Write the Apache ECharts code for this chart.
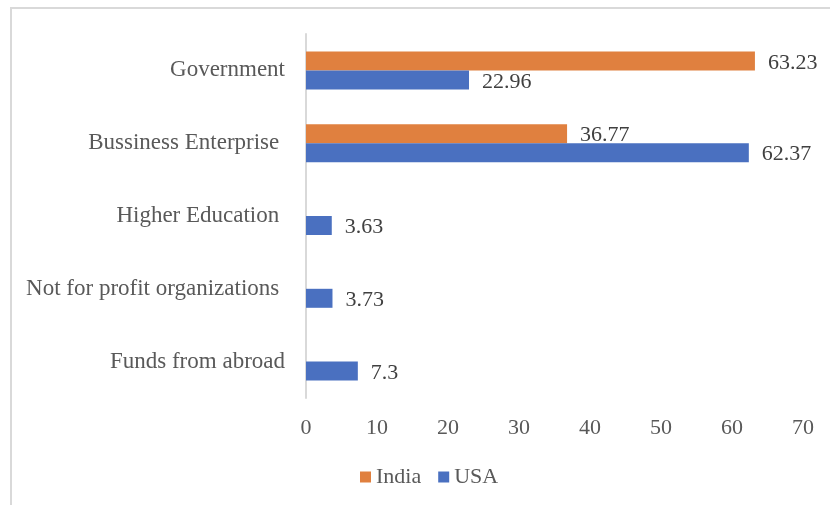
<!DOCTYPE html>
<html>
<head>
<meta charset="utf-8">
<script src="https://cdn.jsdelivr.net/npm/echarts@6/dist/echarts.min.js"></script>
<style>
html,body{margin:0;padding:0;background:#fff;}
#chart{width:830px;height:505px;}
</style>
</head>
<body>
<div id="chart"></div>
<script>
const categories = ["Government", "Bussiness Enterprise ", "Higher Education ", "Not for profit organizations ", "Funds from abroad"];
const seriesNames = ["India", "USA"];
const indiaValues = [63.23, 36.77, null, null, null];
const usaValues = [22.96, 62.37, 3.63, 3.73, 7.3];
const xTicks = { min: 0, max: 70, interval: 10 };

const FONT = '"Liberation Serif", "Times New Roman", serif';
const chart = echarts.init(document.getElementById('chart'), null, { renderer: 'canvas' });

const labelCfg = {
  show: true,
  position: 'right',
  distance: 13,
  offset: [0, 2],
  color: '#404040',
  fontFamily: FONT,
  fontSize: 22,
  formatter: p => (p.value == null ? '' : String(p.value))
};

chart.setOption({
  backgroundColor: '#ffffff',
  animation: false,
  graphic: [{
    type: 'rect',
    shape: { x: 11, y: 8, width: 900, height: 600 },
    style: { fill: 'none', stroke: '#d9d9d9', lineWidth: 2 },
    silent: true
  }],
  grid: { left: 306, right: 27, top: 34, bottom: 107, containLabel: false },
  legend: {
    data: seriesNames,
    left: 355,
    top: 461,
    icon: 'rect',
    itemWidth: 11,
    itemHeight: 11,
    itemGap: 17,
    textStyle: { color: '#595959', fontFamily: FONT, fontSize: 22 }
  },
  xAxis: {
    type: 'value',
    min: xTicks.min,
    max: xTicks.max,
    interval: xTicks.interval,
    axisLine: { show: false },
    axisTick: { show: false },
    splitLine: { show: false },
    axisLabel: { color: '#595959', fontFamily: FONT, fontSize: 22, margin: 19 }
  },
  yAxis: {
    type: 'category',
    inverse: true,
    data: categories,
    axisLine: { show: true, lineStyle: { color: '#d9d9d9', width: 2 } },
    axisTick: { show: false },
    axisLabel: { color: '#595959', fontFamily: FONT, fontSize: 23, margin: 21 }
  },
  series: [
    {
      name: seriesNames[0],
      type: 'bar',
      data: indiaValues,
      barWidth: 19,
      barGap: '0%',
      itemStyle: { color: '#E0803F' },
      label: labelCfg
    },
    {
      name: seriesNames[1],
      type: 'bar',
      data: usaValues,
      barWidth: 19,
      barGap: '0%',
      itemStyle: { color: '#4A70C0' },
      label: labelCfg
    }
  ]
});
</script>
</body>
</html>
